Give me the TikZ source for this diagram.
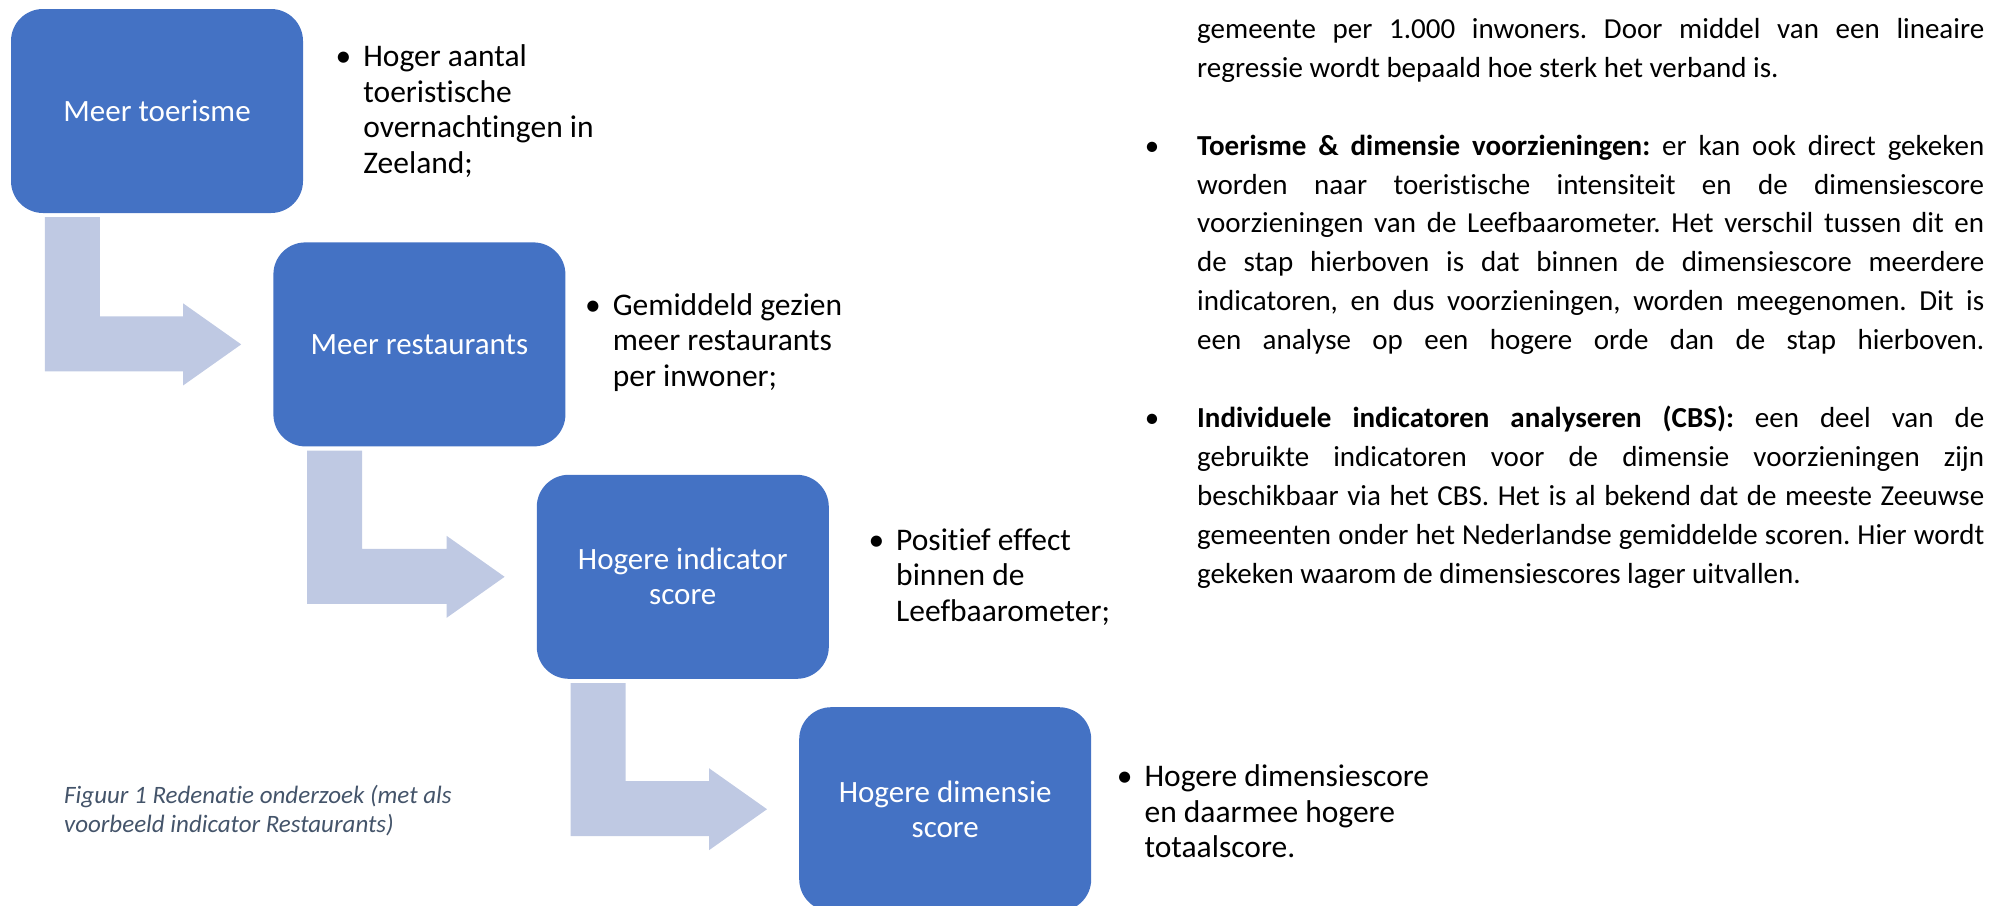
\documentclass[tikz,border=0pt]{standalone}
\usepackage{fontspec}
\setmainfont{Carlito}[Ligatures=NoCommon]
\usetikzlibrary{positioning, calc}

\definecolor{stepblue}{HTML}{4472C4}
\definecolor{flowlight}{HTML}{BFC9E3}
\definecolor{captiongray}{HTML}{44546A}

% one justified line of the body text
\newcommand{\jline}[1]{\makebox[787pt][s]{#1}}
\frenchspacing

\begin{document}
\begin{tikzpicture}[
    x=1pt, y=-1pt,
    stepbox/.style={
      rectangle, rounded corners=32pt, fill=stepblue,
      minimum width=292pt, minimum height=204pt, inner sep=0pt,
      text=white, align=center, font=\fontsize{31}{35}\selectfont
    },
    note/.style={
      anchor=west, align=left, inner sep=0pt,
      font=\fontsize{31.5}{35.5}\selectfont
    },
    body/.style={
      anchor=north west, align=left, inner sep=0pt,
      font=\fontsize{29}{38.9}\selectfont
    },
    caption/.style={
      anchor=north west, align=left, inner sep=0pt, text=captiongray,
      font=\itshape\fontsize{25}{29.5}\selectfont
    },
    flow/.style={fill=flowlight}
  ]

  \useasboundingbox (0,0) rectangle (2004,905);
  \clip (0,0) rectangle (2004,905);

  % ===== Steps =====
  \node[stepbox] (m1) at (157,111) {Meer toerisme};
  \node[stepbox, below right=29pt and -30pt of m1] (m2) {Meer restaurants};
  \node[stepbox, below right=28pt and -29pt of m2] (m3) {Hogere indicator\\score};
  \node[stepbox, below right=28pt and -30pt of m3] (m4) {Hogere dimensie\\score};

  % ===== Bent arrows between steps =====
  \foreach \a/\b in {m1/m2, m2/m3, m3/m4}
    \fill[flow] let \p1=(\a.south west), \p2=(\b.west) in
      (\x1+34pt,\y1-4pt) -- (\x1+89pt,\y1-4pt) -- (\x1+89pt,\y2+28pt)
      -- (\x2-90pt,\y2+28pt) -- (\x2-90pt,\y2+41pt) -- (\x2-32pt,\y2)
      -- (\x2-90pt,\y2-41pt) -- (\x2-90pt,\y2-27pt) -- (\x1+34pt,\y2-27pt) -- cycle;

  % ===== Notes next to the steps =====
  \node[note, right=60pt of m1] (n1) {\llap{\textbullet\hspace{12pt}}Hoger aantal\\toeristische\\overnachtingen in\\Zeeland;};
  \node[note, right=47pt of m2, yshift=2pt] (n2) {\llap{\textbullet\hspace{12pt}}Gemiddeld gezien\\meer restaurants\\per inwoner;};
  \node[note, right=67pt of m3] (n3) {\llap{\textbullet\hspace{12pt}}Positief effect\\binnen de\\Leefbaarometer;};
  \node[note, right=53pt of m4, yshift=-2pt] (n4) {\llap{\textbullet\hspace{12pt}}Hogere dimensiescore\\en daarmee hogere\\totaalscore.};

  % ===== Caption =====
  \node[caption] (cap) at (64,785) {Figuur 1 Redenatie onderzoek (met als\\voorbeeld indicator Restaurants)};

  % ===== Body text =====
  \node[body] (analysis) at (1197,11) {%
    \strut\jline{gemeente per 1.000 inwoners. Door middel van een lineaire}\\
    regressie wordt bepaald hoe sterk het verband is.\\[38.9pt]
    \llap{\textbullet\hspace{38pt}}\jline{\textbf{Toerisme \& dimensie voorzieningen:} er kan ook direct gekeken}\\
    \jline{worden naar toeristische intensiteit en de dimensiescore}\\
    \jline{voorzieningen van de Leefbaarometer. Het verschil tussen dit en}\\
    \jline{de stap hierboven is dat binnen de dimensiescore meerdere}\\
    \jline{indicatoren, en dus voorzieningen, worden meegenomen. Dit is}\\
    \jline{een analyse op een hogere orde dan de stap hierboven.}\\[38.9pt]
    \llap{\textbullet\hspace{38pt}}\jline{\textbf{Individuele indicatoren analyseren (CBS):} een deel van de}\\
    \jline{gebruikte indicatoren voor de dimensie voorzieningen zijn}\\
    \jline{beschikbaar via het CBS. Het is al bekend dat de meeste Zeeuwse}\\
    \jline{gemeenten onder het Nederlandse gemiddelde scoren. Hier wordt}\\
    gekeken waarom de dimensiescores lager uitvallen.};
\end{tikzpicture}
\end{document}
